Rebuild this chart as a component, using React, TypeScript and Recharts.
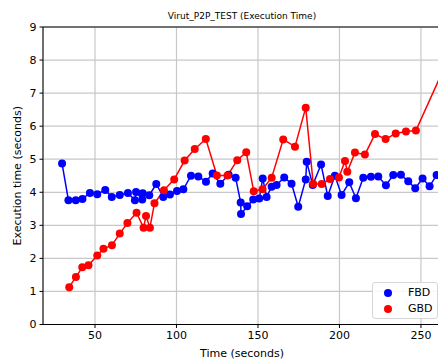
import { LineChart, Line, XAxis, YAxis, CartesianGrid, ReferenceLine } from 'recharts';

// FBD series (blue)
const fbdTime = [
  29.8, 33.7, 38.2, 42.3, 46.9, 51.4, 56.3, 60.3, 65.2, 70.2,
  74.5, 75.2, 79.0, 79.3, 83.3, 87.6, 91.9, 96.0, 100.3, 104.2,
  108.9, 113.4, 118.1, 122.2, 126.9, 132.0, 136.3, 139.4, 139.6, 143.4,
  147.1, 150.8, 152.9, 155.3, 158.4, 161.4, 166.1, 170.6, 174.7, 179.3,
  179.9, 183.6, 188.7, 192.8, 197.2, 201.3, 206.0, 210.1, 214.6, 219.3,
  223.8, 228.5, 233.0, 237.7, 242.2, 246.5, 251.0, 255.3, 259.6,
];
const fbdExec = [
  4.87, 3.76, 3.76, 3.80, 3.98, 3.94, 4.07, 3.86, 3.92, 3.98,
  3.76, 4.01, 3.78, 3.97, 3.91, 4.25, 3.86, 3.93, 4.04, 4.09,
  4.50, 4.48, 4.32, 4.57, 4.26, 4.53, 4.44, 3.69, 3.34, 3.58,
  3.78, 3.81, 4.42, 3.86, 4.17, 4.22, 4.45, 4.26, 3.56, 4.39,
  4.92, 4.22, 4.84, 3.89, 4.50, 3.92, 4.30, 3.82, 4.44, 4.47,
  4.48, 4.21, 4.52, 4.53, 4.33, 4.12, 4.42, 4.18, 4.52,
];

// GBD series (red)
const gbdTime = [
  34.2, 38.3, 42.2, 46.0, 51.4, 55.2, 60.4, 65.2, 69.9, 75.5,
  79.8, 81.3, 83.7, 86.5, 92.3, 98.6, 105.0, 111.2, 118.0, 124.8,
  131.3, 137.3, 142.8, 147.4, 152.8, 158.4, 165.5, 172.7, 179.3, 183.9,
  189.1, 194.2, 199.7, 203.4, 204.8, 209.5, 215.6, 221.8, 228.3, 234.5,
  240.8, 246.9, 266.0,
];
const gbdExec = [
  1.13, 1.44, 1.73, 1.79, 2.09, 2.29, 2.40, 2.75, 3.07, 3.38,
  2.93, 3.28, 2.93, 3.67, 4.06, 4.39, 4.96, 5.31, 5.61, 4.51,
  4.51, 4.97, 5.21, 4.03, 4.09, 4.44, 5.60, 5.38, 6.56, 4.25,
  4.25, 4.40, 4.45, 4.95, 4.62, 5.20, 5.14, 5.76, 5.61, 5.78,
  5.84, 5.87, 7.95,
];

const xTicks = [50, 100, 150, 200, 250];
const yTicks = [0, 1, 2, 3, 4, 5, 6, 7, 8, 9];

const fbdData = fbdTime.map((t, i) => ({ time: t, value: fbdExec[i] }));
const gbdData = gbdTime.map((t, i) => ({ time: t, value: gbdExec[i] }));

const legendItems = [
  { name: 'FBD', color: '#0000ff' },
  { name: 'GBD', color: '#ff0000' },
];

const font = "'DejaVu Sans', sans-serif";

export default function App() {
  return (
    <div
      style={{
        position: 'absolute',
        left: 0,
        top: 0,
        width: 438,
        height: 361,
        overflow: 'hidden',
        background: '#fff',
        fontFamily: font,
      }}
    >
      {/* title */}
      <div
        style={{
          position: 'absolute',
          left: 42,
          width: 400,
          top: 11,
          textAlign: 'center',
          fontSize: 9,
          lineHeight: '11px',
          color: '#000',
        }}
      >
        Virut_P2P_TEST (Execution Time)
      </div>

      <LineChart
        width={441}
        height={361}
        margin={{ top: 27, right: 0, bottom: 0, left: 0 }}
        style={{ fontFamily: font }}
      >
        <CartesianGrid stroke="#c8c8c8" strokeWidth={1.2} />
        <XAxis
          type="number"
          dataKey="time"
          domain={[18.1, 262.3]}
          allowDataOverflow
          ticks={xTicks}
          height={36.5}
          tickSize={3.5}
          tickMargin={3}
          axisLine={{ stroke: '#000' }}
          tickLine={{ stroke: '#000' }}
          tick={{ fontSize: 11, fill: '#000' }}
          label={{ value: 'Time (seconds)', position: 'insideBottom', offset: 4.5, fontSize: 11, fill: '#000' }}
        />
        <YAxis
          type="number"
          domain={[0, 9]}
          ticks={yTicks}
          width={43}
          tickSize={3.5}
          tickMargin={3}
          axisLine={{ stroke: '#000' }}
          tickLine={{ stroke: '#000' }}
          tick={{ fontSize: 11, fill: '#000' }}
          label={{ value: 'Execution time (seconds)', angle: -90, position: 'center', dx: -4, fontSize: 11, fill: '#000' }}
        />
        <ReferenceLine y={9} stroke="#000" strokeWidth={1} />
        <Line
          data={fbdData}
          dataKey="value"
          name="FBD"
          stroke="#0000ff"
          strokeWidth={1.5}
          dot={{ r: 4, fill: '#0000ff', stroke: '#0000ff', strokeWidth: 0 }}
          isAnimationActive={false}
        />
        <Line
          data={gbdData}
          dataKey="value"
          name="GBD"
          stroke="#ff0000"
          strokeWidth={1.5}
          dot={{ r: 4, fill: '#ff0000', stroke: '#ff0000', strokeWidth: 0 }}
          isAnimationActive={false}
        />
      </LineChart>

      {/* legend */}
      <div
        style={{
          position: 'absolute',
          left: 372,
          top: 282,
          width: 64,
          height: 35,
          border: '1px solid #d6d6d6',
          borderRadius: 3,
          background: 'rgba(255,255,255,0.85)',
          fontSize: 11,
          color: '#000',
        }}
      >
        {legendItems.map((item, i) => (
          <div key={item.name} style={{ position: 'absolute', left: 0, top: 3 + i * 16, height: 14, width: 64 }}>
            <span
              style={{
                position: 'absolute',
                left: 11,
                top: 3,
                width: 8,
                height: 8,
                borderRadius: 4,
                background: item.color,
              }}
            />
            <span style={{ position: 'absolute', left: 35, top: 0, lineHeight: '14px' }}>{item.name}</span>
          </div>
        ))}
      </div>
    </div>
  );
}
